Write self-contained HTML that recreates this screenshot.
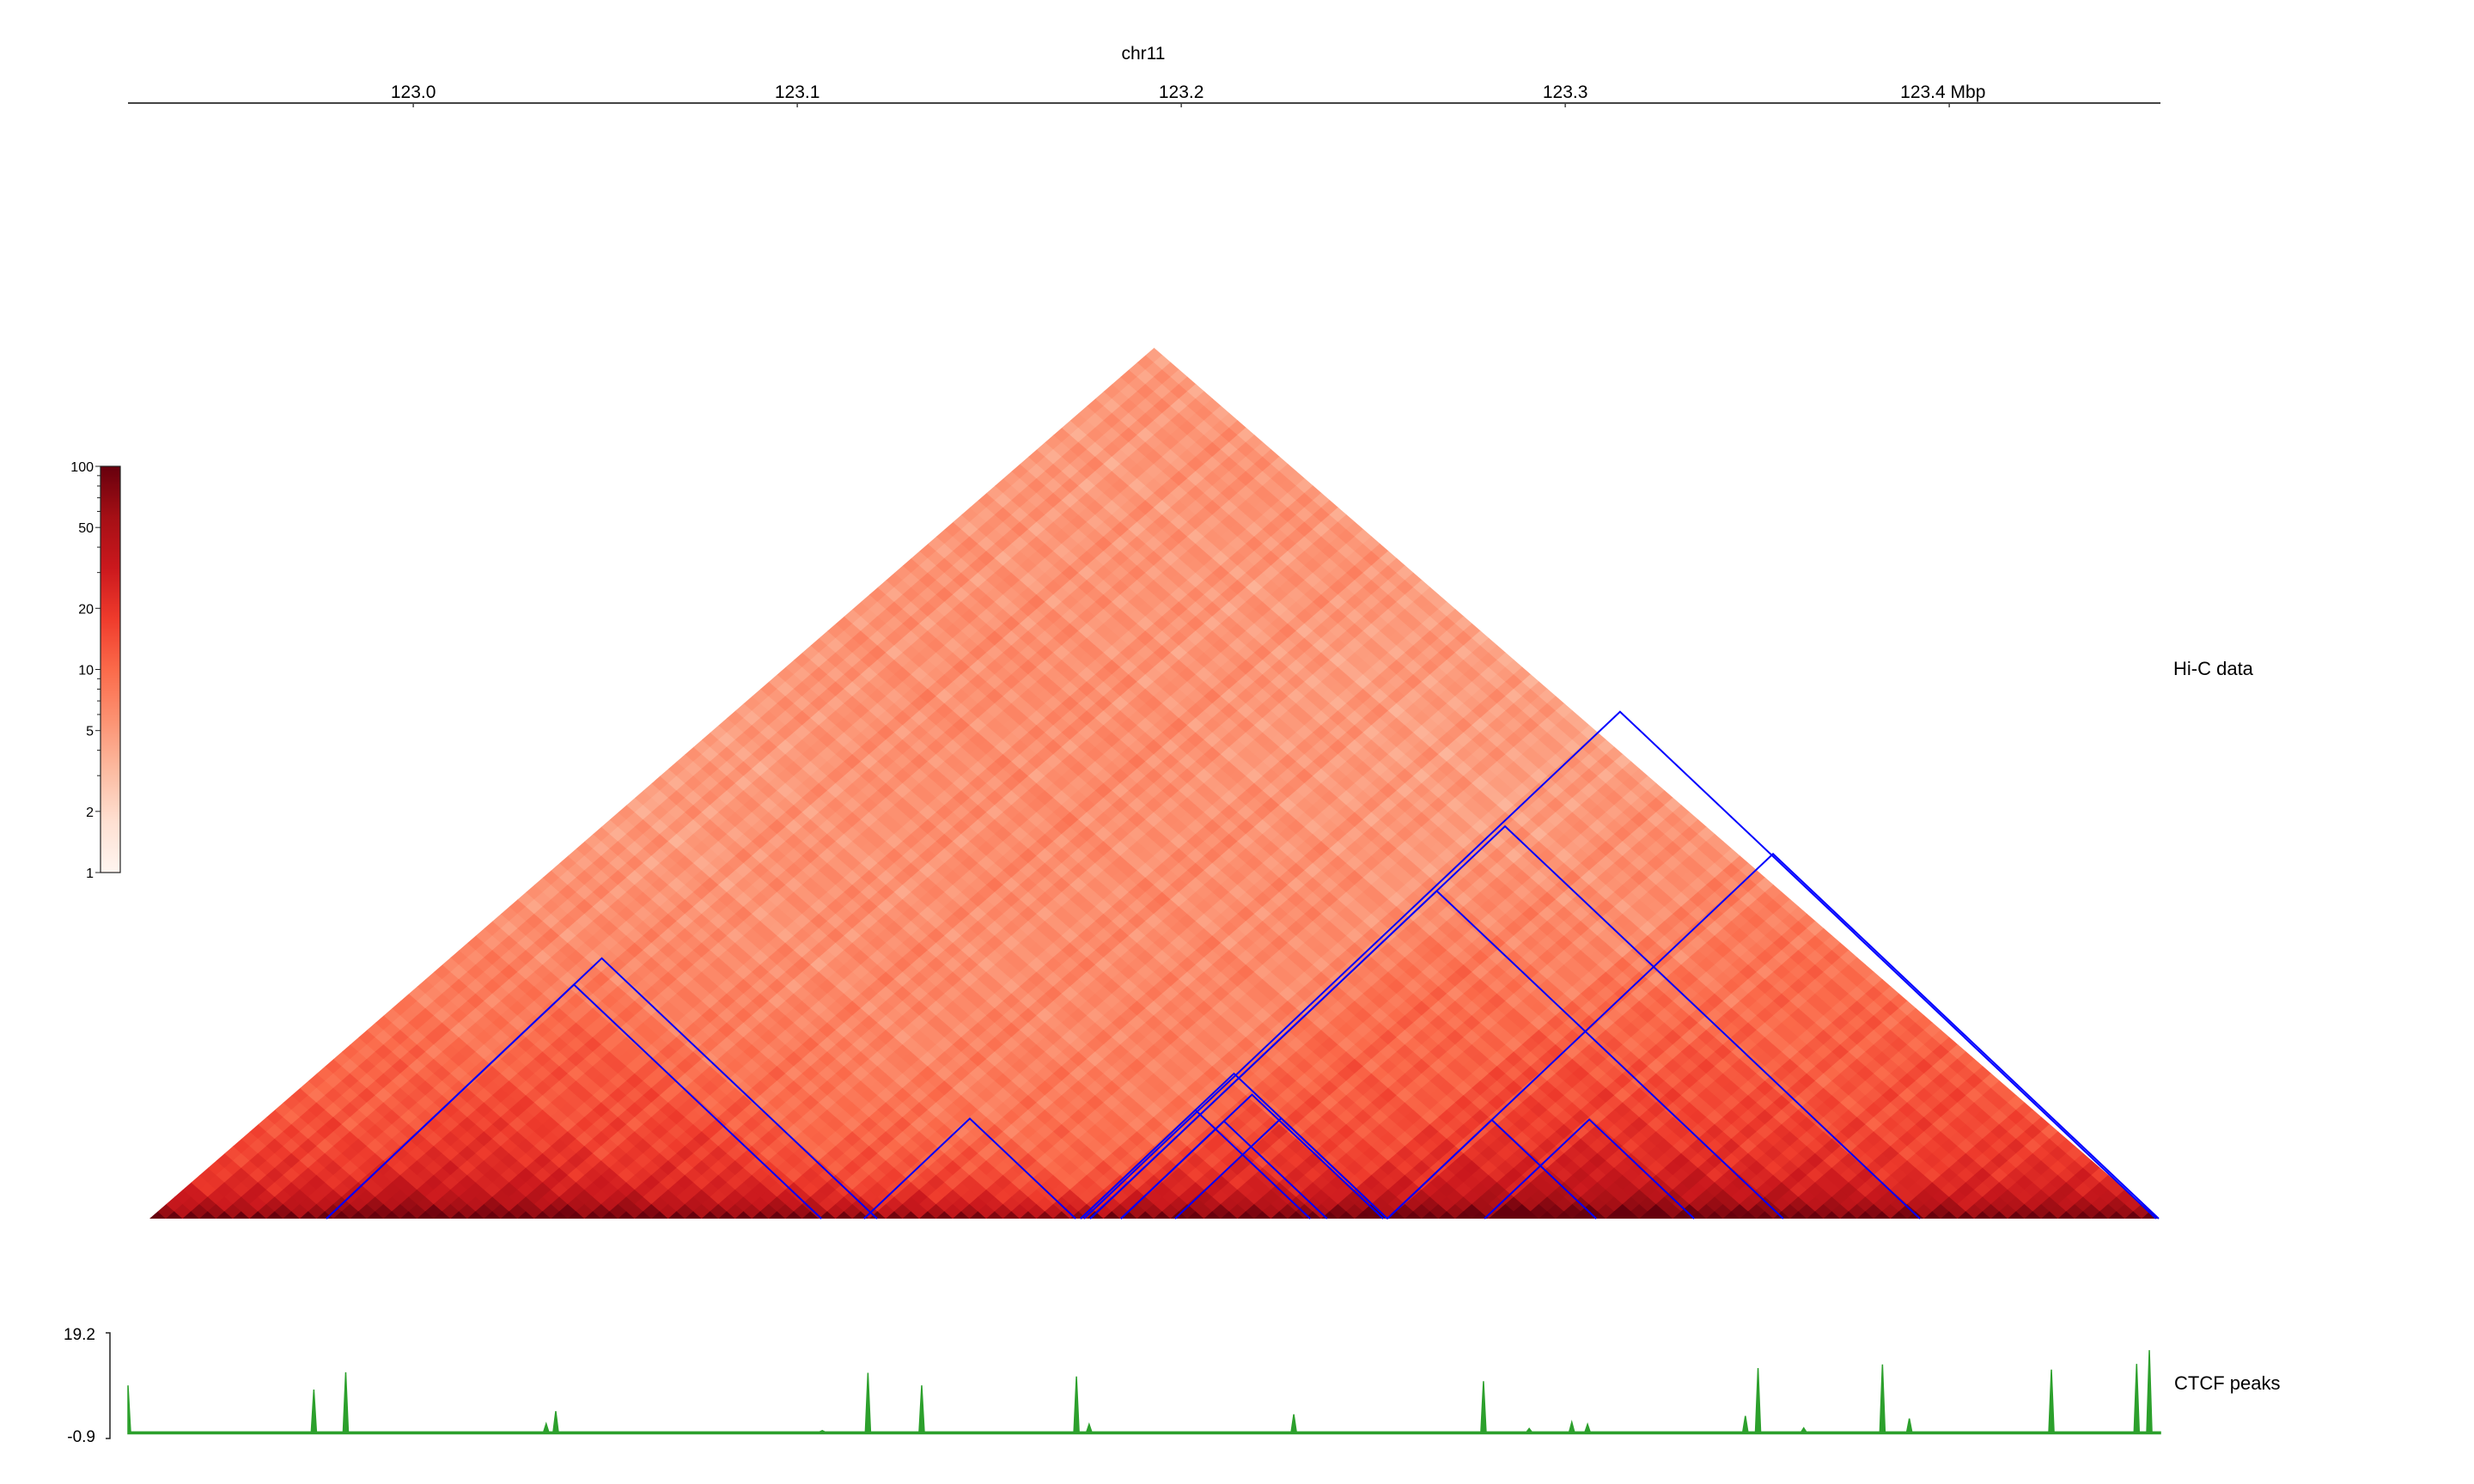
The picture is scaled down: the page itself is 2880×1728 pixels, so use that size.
<!DOCTYPE html>
<html><head><meta charset="utf-8"><style>
html,body{margin:0;padding:0;background:#fff;}
svg{display:block;font-family:"Liberation Sans","DejaVu Sans",sans-serif;}
</style></head><body>
<svg id="fig" width="2880" height="1728" viewBox="0 0 2880 1728" xmlns="http://www.w3.org/2000/svg">
<defs>
<clipPath id="triClip"><polygon points="174,1419 1343.5,405 2513,1419"/></clipPath>
<linearGradient id="cbGrad" x1="0" y1="1" x2="0" y2="0">
<stop offset="0" stop-color="#fff5f0"/><stop offset="0.125" stop-color="#fee0d2"/><stop offset="0.25" stop-color="#fcbba1"/><stop offset="0.375" stop-color="#fc9272"/><stop offset="0.5" stop-color="#fb6a4a"/><stop offset="0.625" stop-color="#ef3b2c"/><stop offset="0.75" stop-color="#cb181d"/><stop offset="0.875" stop-color="#a50f15"/><stop offset="1" stop-color="#67000d"/>
</linearGradient>
</defs>
<text x="1331" y="69" font-size="21" text-anchor="middle">chr11</text>
<line x1="149" y1="120" x2="2515" y2="120" stroke="#444" stroke-width="2"/>
<g id="xticks"></g>
<g id="heat" clip-path="url(#triClip)"></g>
<g id="tads"></g>
<rect x="117" y="543" width="23" height="473" fill="url(#cbGrad)" stroke="#222" stroke-width="1.2"/>
<g id="cbticks"></g>
<text x="2530" y="786" font-size="22">Hi-C data</text>
<g id="ctcf"></g>
<text x="2531" y="1618" font-size="22">CTCF peaks</text>
</svg>
<script>
// ---- data ----
const xTickValues = [123.0, 123.1, 123.2, 123.3, 123.4];
const xTickLabels = ["123.0", "123.1", "123.2", "123.3", "123.4  Mbp"];
const axisStartMbp = 122.9257, axisEndMbp = 123.4550;
const heatStartMbp = 122.9313, heatEndMbp = 123.4546;
const nBins = 120;
// contact decay by diagonal distance (bins) -> value
const decayDist = [0, 1, 2, 3, 4, 6, 10, 15, 25, 40, 60, 80, 100, 119];
const decayVal = [100, 48, 33, 26, 22, 17, 13, 10.5, 8, 6.2, 5.2, 4.7, 4.5, 4.4];
// regional coverage factors (12 segments of 10 bins)
const regionFactor = [1.2, 1.25, 1.15, 0.95, 0.82, 0.72, 0.8, 1.0, 1.2, 1.22, 1.12, 1.2];
// texture factors (cycled along rows / columns)
const rowTexture = [1.0, 0.82, 1.15, 0.9, 1.22, 0.78, 1.05, 1.12, 0.86, 0.95, 1.25, 0.8, 1.08, 0.92, 1.18, 0.84, 1.02];
const colTexture = [0.9, 1.14, 0.84, 1.06, 1.2, 0.8, 1.0, 0.94, 1.16, 0.86, 1.1, 0.98, 1.2];
// TAD domains (Mbp)
const tadStart = [122.9774, 122.9774, 123.1174, 123.1747, 123.1763, 123.1763, 123.2537, 123.2790, 123.2537, 123.1738, 123.1843, 123.1738, 123.1843, 123.1984];
const tadEnd = [123.1208, 123.1063, 123.1725, 123.4539, 123.3924, 123.3568, 123.4546, 123.3336, 123.3081, 123.2537, 123.2526, 123.2336, 123.2380, 123.2537];
const tadBoost = [1.15, 1.1, 1.1, 1.05, 1.08, 1.12, 1.08, 1.1, 1.08, 1.08, 1.05, 1.05, 1.05, 1.05];
// CTCF peaks
const ctcfPos = [122.9257, 122.9741, 122.9824, 123.0346, 123.0371, 123.1065, 123.1184, 123.1324, 123.1727, 123.1760, 123.2293, 123.2787, 123.2906, 123.3017, 123.3058, 123.3469, 123.3502, 123.3621, 123.3826, 123.3896, 123.4266, 123.4488, 123.4521];
const ctcfVal = [9.2, 8.4, 11.7, 1.9, 4.3, 0.6, 11.6, 9.2, 10.9, 1.8, 3.7, 10.0, 1.0, 2.2, 1.8, 3.4, 12.5, 1.1, 13.2, 2.9, 12.2, 13.3, 15.9];
const ctcfMin = -0.9, ctcfMax = 19.2;
const cbTicks = [100, 50, 20, 10, 5, 2, 1];

// ---- helpers ----
const NS = "http://www.w3.org/2000/svg";
function mk(tag, attrs, parent) { const e = document.createElementNS(NS, tag); for (const k in attrs) e.setAttribute(k, attrs[k]); parent.appendChild(e); return e; }
const axX = v => 149 + (v - axisStartMbp) / (axisEndMbp - axisStartMbp) * (2515 - 149);
const HX0 = 174, HX1 = 2513, BASE = 1419, HH = 1014;
const hx = v => HX0 + (v - heatStartMbp) / (heatEndMbp - heatStartMbp) * (HX1 - HX0);
const stops = [[255,245,240],[254,224,210],[252,187,161],[252,146,114],[251,106,74],[239,59,44],[203,24,29],[165,15,21],[103,0,13]];
function cmap(v) { let t = Math.log10(Math.max(1, Math.min(100, v))) / 2; const p = t * 8; const i = Math.min(7, Math.floor(p)); const f = p - i; const a = stops[i], b = stops[i + 1]; return `rgb(${Math.round(a[0] + (b[0] - a[0]) * f)},${Math.round(a[1] + (b[1] - a[1]) * f)},${Math.round(a[2] + (b[2] - a[2]) * f)})`; }
function decay(d) { for (let k = 0; k < decayDist.length - 1; k++) { if (d <= decayDist[k + 1]) { const f = (d - decayDist[k]) / (decayDist[k + 1] - decayDist[k]); return Math.exp(Math.log(decayVal[k]) * (1 - f) + Math.log(decayVal[k + 1]) * f); } } return decayVal[decayVal.length - 1]; }

// ---- x axis ticks ----
const xt = document.getElementById('xticks');
xTickValues.forEach((v, i) => {
  const x = axX(v);
  const t = mk('line', { x1: x, y1: 120, x2: x, y2: 125, stroke: '#444', 'stroke-width': 1.5 }, xt);
  
  
  const lab = mk('text', { x: i === 4 ? x - 57 : x, y: 114, 'font-size': 21, 'text-anchor': i === 4 ? 'start' : 'middle' }, xt);
  lab.textContent = xTickLabels[i];
  
  
});

// ---- heatmap ----
const heat = document.getElementById('heat');
const binW = (HX1 - HX0) / nBins, dh = HH / nBins;
const binMid = i => heatStartMbp + (i + 0.5) / nBins * (heatEndMbp - heatStartMbp);
for (let i = 0; i < nBins; i++) {
  for (let j = i; j < nBins; j++) {
    const d = j - i;
    let v = decay(d) * Math.sqrt(regionFactor[Math.floor(i / 10)] * regionFactor[Math.floor(j / 10)]);
    if (d > 0) v *= Math.pow(rowTexture[i % rowTexture.length] * colTexture[j % colTexture.length], 0.8);
    const a = binMid(i), b = binMid(j);
    for (let k = 0; k < tadStart.length; k++) { if (a >= tadStart[k] && b <= tadEnd[k]) v *= tadBoost[k]; }
    const cx = HX0 + (i + j + 1) * binW / 2, cy = BASE - d * dh;
    const p = mk('polygon', { points: `${cx - binW / 2 - 0.5},${cy} ${cx},${cy - dh - 0.5} ${cx + binW / 2 + 0.5},${cy} ${cx},${cy + dh + 0.5}`, fill: cmap(v) }, heat);
    
    
  }
}

// ---- TADs ----
const tads = document.getElementById('tads');
const tadSlope = 0.946;
tadStart.forEach((s, k) => {
  const x0 = hx(s), x1 = hx(tadEnd[k]), xm = (x0 + x1) / 2, h = (x1 - x0) / 2 * tadSlope;
  const pl = mk('polyline', { points: `${x0},${BASE} ${xm},${BASE - h} ${x1},${BASE}`, fill: 'none', stroke: '#0000ff', 'stroke-width': 2 }, tads);
  
  
});

// ---- colorbar ticks ----
const cb = document.getElementById('cbticks');
const cbY = v => 1016 - Math.log10(v) / 2 * 473;
[1,2,3,4,5,6,7,8,9,10,20,30,40,50,60,70,80,90,100].forEach(v => {
  const major = cbTicks.includes(v);
  const l = mk('line', { x1: 117, y1: cbY(v), x2: major ? 111 : 113, y2: cbY(v), stroke: '#222', 'stroke-width': 1 }, cb);
  
  
});
cbTicks.forEach(v => {
  const t = mk('text', { x: 109, y: cbY(v) + 6, 'font-size': 16, 'text-anchor': 'end' }, cb);
  t.textContent = String(v);
  
  
});

// ---- CTCF ----
const ct = document.getElementById('ctcf');
const cy = v => 1552 + (ctcfMax - v) / (ctcfMax - ctcfMin) * 123;
const ax = mk('polyline', { points: `123,1552 128,1552 128,1675 123,1675`, fill: 'none', stroke: '#222', 'stroke-width': 1.5 }, ct);


[[ctcfMax, '19.2', 1560], [ctcfMin, '-0.9', 1679]].forEach(([v, s, y]) => {
  const t = mk('text', { x: 111, y: y, 'font-size': 19, 'text-anchor': 'end' }, ct);
  t.textContent = s;
  
  
});
const bgLevel = 0.35;
let pts = [`${axX(axisStartMbp)},${cy(0)}`];
ctcfPos.forEach((p, k) => {
  const x = axX(p);
  pts.push(`${Math.max(149, x - 3)},${cy(bgLevel)}`, `${x},${cy(ctcfVal[k])}`, `${x + 3},${cy(bgLevel)}`);
});
pts.push(`${axX(axisEndMbp)},${cy(bgLevel)}`, `${axX(axisEndMbp)},${cy(0)}`);
const area = mk('polygon', { points: pts.join(' '), fill: '#2ca02c', stroke: '#2ca02c', 'stroke-width': 1.5 }, ct);


</script>
</body></html>
